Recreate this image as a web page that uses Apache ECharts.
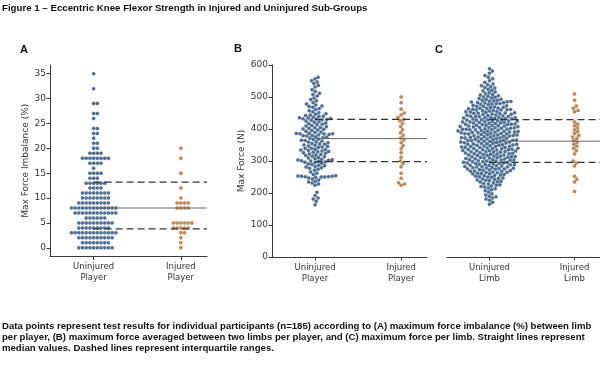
<!DOCTYPE html>
<html><head><meta charset="utf-8">
<script src="https://cdn.jsdelivr.net/npm/echarts@6/dist/echarts.min.js"></script>
<style>html,body{margin:0;padding:0;background:#fff}#c{width:600px;height:372px}</style>
</head><body><div id="c"></div>
<script>
// ---------------- data ----------------
const catsPlayer = ['Uninjured\nPlayer', 'Injured\nPlayer'];
const catsLimb = ['Uninjured\nLimb', 'Injured\nLimb'];
const yTicksA = [0, 5, 10, 15, 20, 25, 30, 35];

// Panel A: max force imbalance (%)
const aUninjured = [35, 32, 29, 29, 27, 27, 26, 24, 24, 23, 23, 22, 21, 21, 20, 20,
  19, 19, 19, 19, 18, 18, 18, 18, 18, 18, 18, 18, 17, 17, 17, 17, 16, 15, 15, 15, 15,
  14, 14, 14, 13, 13, 13, 13, 13, 13, 12, 12, 12, 12, 11, 11, 11, 11, 11, 11, 11, 11,
  10, 10, 10, 10, 10, 10, 10, 10, 9, 9, 9, 9, 9, 9, 9, 9, 9,
  8, 8, 8, 8, 8, 8, 8, 8, 8, 8, 8, 8, 8, 7, 7, 7, 7, 7, 7, 7, 7, 7, 7, 7, 7,
  6, 6, 6, 6, 6, 6, 5, 5, 5, 5, 5, 5, 5, 5, 5, 5, 4, 4, 4, 4, 4, 4, 4, 4, 4,
  3, 3, 3, 3, 3, 3, 3, 3, 3, 3, 3, 3, 3, 2, 2, 2, 2, 2, 2, 2, 2, 2, 2,
  1, 1, 1, 1, 1, 1, 1, 1, 0, 0, 0, 0, 0, 0, 0, 0, 0, 0];
const aInjured = [20, 18, 15, 12, 10, 9, 9, 9, 9, 8, 8, 8, 8, 5, 5, 5, 5, 5, 5,
  4, 4, 4, 4, 4, 3, 3, 2, 1, 0];
const aMedian = 8, aQ1 = 3.8, aQ3 = 13.2;

// Panel B: max force (N) averaged per player
const bUninjured = [163, 174, 181, 184, 192, 202, 224, 228, 231, 234, 237, 241, 244, 247,
  249, 250, 250, 251, 251, 252, 252, 253, 254, 258, 262, 266, 271, 274, 277, 279,
  281, 283, 285, 287, 289, 291, 293, 295, 296, 297, 299,
  300, 301, 302, 303, 304, 305, 307, 309, 311, 313, 315, 317, 319,
  320, 322, 324, 326, 327, 329, 330, 331, 333, 334, 336, 337, 339,
  340, 342, 344, 345, 347, 349, 350, 352, 353, 355, 357, 359,
  360, 362, 364, 365, 367, 369, 371, 373, 374, 376, 378, 379,
  380, 382, 383, 384, 385, 385, 386, 387, 389, 391, 393, 395, 397, 399,
  400, 402, 404, 405, 407, 409, 411, 413, 415, 417, 419, 421, 423, 425, 427, 429,
  430, 431, 432, 433, 434, 435, 437, 439, 440, 442, 444, 446, 448, 451, 454, 457,
  461, 464, 468, 470, 472, 475, 478, 483, 488, 492, 497, 503, 508, 512, 517, 523,
  531, 536, 542, 547, 551, 556, 562];
const bInjured = [500, 482, 462, 450, 444, 436, 430, 426, 418, 408, 398, 388, 380, 372,
  366, 358, 348, 338, 326, 312, 300, 292, 282, 262, 246, 232, 228, 224];
const bMedian = 370, bQ1 = 298, bQ3 = 430;

// Panel C: max force (N) per limb
const cUninjured = [165, 171, 177, 181, 184, 188, 190, 194, 198, 203, 207,
  210, 213, 216, 219, 220, 222, 224, 226, 228, 230, 232, 234, 235, 237, 239,
  240, 241, 243, 244, 246, 247, 249, 250, 251, 252, 254, 255, 256, 258, 259,
  260, 261, 262, 263, 264, 265, 266, 267, 268, 269,
  270, 271, 272, 273, 274, 275, 275, 276, 277, 278, 279,
  280, 281, 281, 282, 283, 284, 285, 286, 287, 288, 288, 289,
  290, 291, 292, 293, 294, 294, 295, 296, 297, 298, 298, 299,
  300, 301, 302, 303, 303, 304, 305, 306, 307, 308, 309, 309,
  310, 311, 312, 313, 313, 314, 315, 316, 317, 318, 319, 319,
  320, 321, 322, 323, 323, 324, 325, 326, 327, 328, 329, 329,
  330, 331, 332, 332, 333, 334, 335, 335, 336, 337, 338, 339, 339,
  340, 341, 342, 342, 343, 344, 345, 345, 346, 347, 348, 349, 349,
  350, 351, 352, 352, 353, 354, 355, 355, 356, 357, 358, 359, 359,
  360, 361, 362, 362, 363, 364, 365, 365, 366, 367, 368, 369, 369,
  370, 371, 372, 372, 373, 374, 375, 375, 376, 377, 378, 379, 379,
  380, 381, 381, 382, 383, 384, 384, 385, 386, 387, 388, 388, 389, 389,
  390, 391, 391, 392, 393, 394, 394, 395, 396, 397, 398, 398, 399, 399,
  400, 401, 402, 402, 403, 404, 405, 405, 406, 407, 408, 409, 409,
  410, 411, 412, 412, 413, 414, 415, 415, 416, 417, 418, 419, 419,
  420, 421, 422, 422, 423, 424, 425, 425, 426, 427, 428, 429, 429,
  430, 431, 432, 432, 433, 434, 435, 435, 436, 437, 438, 439, 439,
  440, 441, 442, 443, 444, 445, 446, 447, 448, 449, 449,
  450, 451, 452, 453, 454, 455, 456, 457, 458, 459, 459,
  460, 461, 462, 463, 464, 465, 466, 467, 468, 469,
  470, 471, 473, 474, 476, 477, 478, 479,
  480, 481, 482, 483, 484, 485, 486, 487, 488, 489,
  490, 492, 493, 495, 497, 499, 500, 502, 504, 506, 508,
  510, 513, 516, 519, 521, 524, 528, 530, 532, 535, 538,
  541, 546, 551, 557, 562, 567, 574, 581, 588];
const cInjured = [509, 490, 472, 465, 458, 454, 422, 416, 410, 404, 398, 392, 386, 380,
  375, 370, 364, 358, 352, 346, 340, 332, 322, 300, 294, 284, 252, 243, 234, 205];
const cMedian = 362, cQ1 = 296, cQ3 = 429;

// ---------------- styling ----------------
const BLUE = '#4a73a0';
const ORANGE = '#d08a48';
const AX = '#3a3a3a';
const FONT = 'DejaVu Sans';
const CAPFONT = '"Liberation Sans", Arial, sans-serif';
const XMIN = -0.5, XMAX = 1.3;
const DOT = 3.5, GAP = 3.7;

const chart = echarts.init(document.getElementById('c'), null, {renderer: 'canvas'});

function xAxis(grid, cats) {
  return {
    type: 'value', gridIndex: grid, min: XMIN, max: XMAX,
    axisLine: {show: true, onZero: false, lineStyle: {color: AX, width: 1}},
    axisTick: {show: true, customValues: [0, 1], length: 3.5, lineStyle: {color: AX}},
    axisLabel: {customValues: [0, 1], formatter: v => cats[Math.round(v)],
      fontFamily: FONT, fontSize: 8.5, color: '#333', lineHeight: 11, margin: 5},
    splitLine: {show: false}
  };
}
const tickStyle = {fontFamily: FONT, fontSize: 9, color: '#333', margin: 4};

const baseOption = {
  animation: false,
  backgroundColor: '#fff',
  grid: [
    {left: 50, top: 65, width: 157, height: 191.5},
    {left: 272, top: 65, width: 155, height: 192},
    {left: 447, top: 65, width: 155, height: 192}
  ],
  xAxis: [xAxis(0, catsPlayer), xAxis(1, catsPlayer), xAxis(2, catsLimb)],
  yAxis: [
    {type: 'value', gridIndex: 0, min: -1.75, max: 36.75,
      name: 'Max Force Imbalance (%)', nameLocation: 'middle', nameGap: 20,
      nameTextStyle: {fontFamily: FONT, fontSize: 9, color: '#333'},
      axisLine: {show: true, onZero: false, lineStyle: {color: AX}},
      axisTick: {show: true, customValues: yTicksA, length: 3.5, lineStyle: {color: AX}},
      axisLabel: Object.assign({customValues: yTicksA}, tickStyle),
      splitLine: {show: false}},
    {type: 'value', gridIndex: 1, min: 0, max: 600, interval: 100,
      name: 'Max Force (N)', nameLocation: 'middle', nameGap: 26,
      nameTextStyle: {fontFamily: FONT, fontSize: 9, color: '#333'},
      axisLine: {show: true, onZero: false, lineStyle: {color: AX}},
      axisTick: {show: true, length: 3.5, lineStyle: {color: AX}},
      axisLabel: tickStyle, splitLine: {show: false}},
    {type: 'value', gridIndex: 2, min: 0, max: 600, interval: 100,
      axisLine: {show: false}, axisTick: {show: false}, axisLabel: {show: false},
      splitLine: {show: false}}
  ],
  graphic: [
    {type: 'text', left: 2, top: 3, style: {text: 'Figure 1 \u2013 Eccentric Knee Flexor Strength in Injured and Uninjured Sub-Groups',
      font: 'bold 9.7px ' + CAPFONT, fill: '#111'}},
    {type: 'text', left: 20, top: 44, style: {text: 'A', font: 'bold 11px ' + CAPFONT, fill: '#111'}},
    {type: 'text', left: 234, top: 43, style: {text: 'B', font: 'bold 11px ' + CAPFONT, fill: '#111'}},
    {type: 'text', left: 435, top: 44, style: {text: 'C', font: 'bold 11px ' + CAPFONT, fill: '#111'}},
    {type: 'text', left: 2, top: 321.5, style: {text: 'Data points represent test results for individual participants (n=185) according to (A) maximum force imbalance (%) between limb',
      font: 'bold 9.6px ' + CAPFONT, fill: '#111'}},
    {type: 'text', left: 2, top: 332.5, style: {text: 'per player, (B) maximum force averaged between two limbs per player, and (C) maximum force per limb. Straight lines represent',
      font: 'bold 9.6px ' + CAPFONT, fill: '#111'}},
    {type: 'text', left: 2, top: 343, style: {text: 'median values. Dashed lines represent interquartile ranges.',
      font: 'bold 9.6px ' + CAPFONT, fill: '#111'}}
  ],
  series: []
};
chart.setOption(baseOption);

// beeswarm layout in pixel space
function swarm(grid, cat, values) {
  const pts = values.map(v => chart.convertToPixel({gridIndex: grid}, [cat, v]));
  const cx = pts.length ? pts[0][0] : 0;
  const order = values.map((v, i) => i).sort((a, b) => pts[b][1] - pts[a][1]);
  const placed = [];
  const out = new Array(values.length);
  const d2 = GAP * GAP;
  for (const i of order) {
    const y = pts[i][1];
    const nb = placed.filter(p => Math.abs(p.y - y) < GAP);
    const cand = [0];
    for (const n of nb) {
      const dx = Math.sqrt(Math.max(0, d2 - (y - n.y) * (y - n.y)));
      cand.push(n.x + dx, n.x - dx);
    }
    cand.sort((a, b) => Math.abs(a) - Math.abs(b));
    let chosen = 0;
    for (const c of cand) {
      let ok = true;
      for (const n of nb) {
        if ((c - n.x) * (c - n.x) + (y - n.y) * (y - n.y) < d2 - 1e-6) { ok = false; break; }
      }
      if (ok) { chosen = c; break; }
    }
    placed.push({x: chosen, y: y});
    const dataX = chart.convertFromPixel({gridIndex: grid}, [cx + chosen, y])[0];
    out[i] = [dataX, values[i]];
  }
  return out;
}
function scatter(grid, cat, values, color) {
  return {type: 'scatter', xAxisIndex: grid, yAxisIndex: grid, symbolSize: DOT, z: 2,
    itemStyle: {color: color, opacity: 1, borderColor: 'rgba(60,60,60,0.35)', borderWidth: 0.4},
    silent: true, data: swarm(grid, cat, values)};
}
function hline(grid, v, dashed) {
  return {type: 'line', xAxisIndex: grid, yAxisIndex: grid, symbol: 'none', z: 5, silent: true,
    lineStyle: dashed ? {color: '#333', width: 1.3, type: [7, 4]} : {color: '#666', width: 1},
    data: [[0, v], [XMAX, v]]};
}
chart.setOption({series: [
  scatter(0, 0, aUninjured, BLUE), scatter(0, 1, aInjured, ORANGE),
  scatter(1, 0, bUninjured, BLUE), scatter(1, 1, bInjured, ORANGE),
  scatter(2, 0, cUninjured, BLUE), scatter(2, 1, cInjured, ORANGE),
  hline(0, aMedian, false), hline(0, aQ1, true), hline(0, aQ3, true),
  hline(1, bMedian, false), hline(1, bQ1, true), hline(1, bQ3, true),
  hline(2, cMedian, false), hline(2, cQ1, true), hline(2, cQ3, true)
]});
</script></body></html>
